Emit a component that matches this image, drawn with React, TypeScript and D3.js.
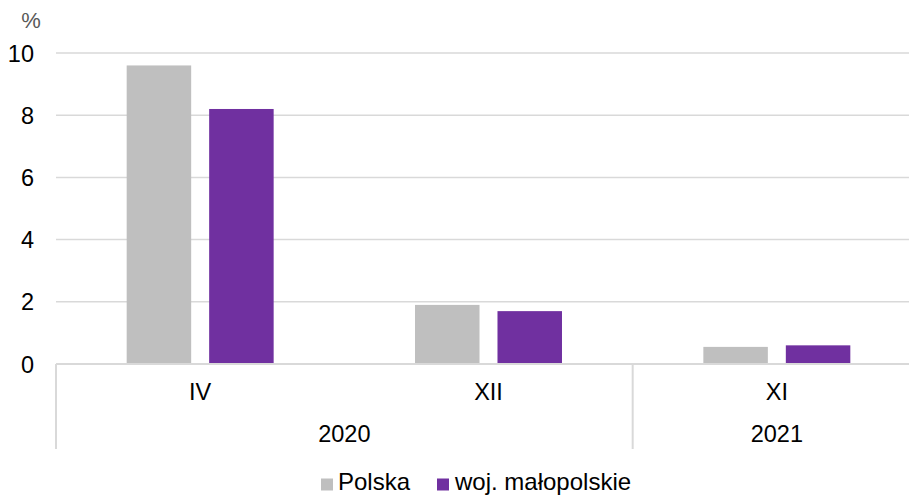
import React from "react";
import * as d3 from "d3";

const categories = ["IV", "XII", "XI"];
const yearGroups = [
  { label: "2020", from: 0, to: 1 },
  { label: "2021", from: 2, to: 2 },
];
const seriesNames = ["Polska", "woj. małopolskie"];
const polska = [9.6, 1.9, 0.55];
const malopolskie = [8.2, 1.7, 0.6];
const yTicks = [0, 2, 4, 6, 8, 10];
const colors = ["#BFBFBF", "#7030A0"];

const W = 909;
const H = 495;
const left = 56;
const right = 921;
const top = 53;
const bottom = 364;
const font = "'Liberation Sans', Arial, sans-serif";
const fs = 23.5;

export default function App() {
  const x0 = d3.scaleBand<string>().domain(categories.map((c, i) => String(i))).range([left, right]).paddingInner(0).paddingOuter(0);
  const x1 = d3
    .scaleBand<string>()
    .domain(seriesNames)
    .range([0, x0.bandwidth()])
    .paddingInner(0.218)
    .paddingOuter(0.857);
  const y = d3.scaleLinear().domain([0, 10]).range([bottom, top]);
  const data = [polska, malopolskie];

  return (
    <svg width={W} height={H} style={{ position: "absolute", left: 0, top: 0, background: "#fff" }} fontFamily={font}>
      {yTicks.map((t) => (
        <g key={t}>
          {t > 0 && <line x1={left} x2={W} y1={y(t)} y2={y(t)} stroke="#d9d9d9" strokeWidth={1.5} />}
          <text x={34} y={y(t) + 8.5} textAnchor="end" fontSize={fs} fill="#000">
            {t}
          </text>
        </g>
      ))}
      <text x={31} y={28} textAnchor="middle" fontSize={22} fill="#595959">
        %
      </text>
      {categories.map((c, i) =>
        data.map((vals, s) => {
          const xs = (x0(String(i)) as number) + (x1(seriesNames[s]) as number);
          return (
            <rect
              key={c + s}
              x={xs}
              y={y(vals[i])}
              width={x1.bandwidth()}
              height={bottom - y(vals[i])}
              fill={colors[s]}
            />
          );
        })
      )}
      <line x1={left} x2={W} y1={bottom} y2={bottom} stroke="#d9d9d9" strokeWidth={2} />
      {categories.map((c, i) => (
        <text
          key={c}
          x={(x0(String(i)) as number) + x0.bandwidth() / 2}
          y={400}
          textAnchor="middle"
          fontSize={fs}
          fill="#000"
        >
          {c}
        </text>
      ))}
      {yearGroups.map((g) => (
        <line
          key={"sep" + g.label}
          x1={x0(String(g.from)) as number}
          x2={x0(String(g.from)) as number}
          y1={bottom}
          y2={449}
          stroke="#d9d9d9"
          strokeWidth={2}
        />
      ))}
      <line x1={right} x2={right} y1={bottom} y2={449} stroke="#d9d9d9" strokeWidth={2} />
      {yearGroups.map((g) => {
        const a = x0(String(g.from)) as number;
        const b = (x0(String(g.to)) as number) + x0.bandwidth();
        return (
          <text key={g.label} x={(a + b) / 2} y={442} textAnchor="middle" fontSize={fs} fill="#000">
            {g.label}
          </text>
        );
      })}
      <g>
        <rect x={321} y={478.5} width={12} height={12} fill={colors[0]} />
        <text x={338} y={489.5} fontSize={24} fill="#000">
          {seriesNames[0]}
        </text>
        <rect x={437} y={478.5} width={12} height={12} fill={colors[1]} />
        <text x={455} y={489.5} fontSize={24} fill="#000">
          {seriesNames[1]}
        </text>
      </g>
    </svg>
  );
}
